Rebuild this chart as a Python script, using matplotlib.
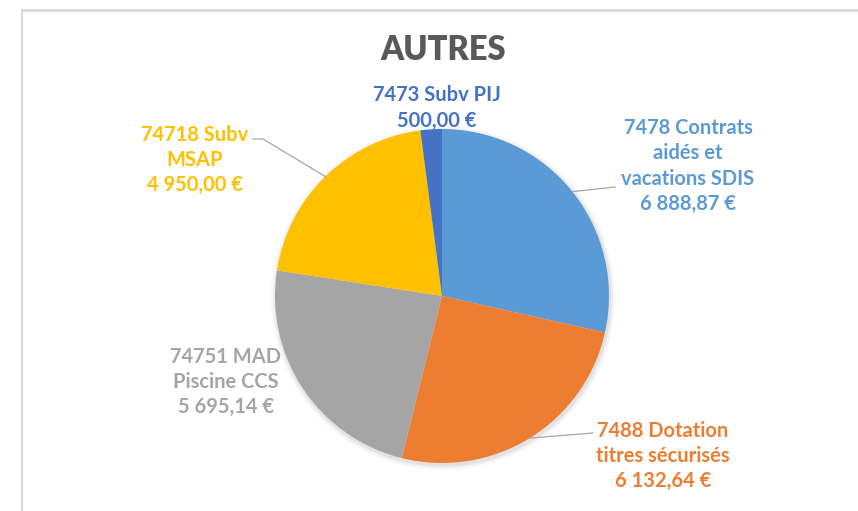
import numpy as np
import matplotlib.pyplot as plt
from matplotlib.patches import Circle

plt.rcParams['font.family'] = ['Lato', 'DejaVu Sans']

# slices, clockwise from 12 o'clock
labels = ['7478 Contrats\naidés et\nvacations SDIS',
          '7488 Dotation\ntitres sécurisés',
          '74751 MAD\nPiscine CCS',
          '74718 Subv\nMSAP',
          '7473 Subv PIJ']
values = [6888.87, 6132.64, 5695.14, 4950.00, 500.00]
amounts = ['6 888,87 €', '6 132,64 €', '5 695,14 €', '4 950,00 €', '500,00 €']
colors = ['#5B9BD5', '#ED7D31', '#A5A5A5', '#FFC000', '#4472C4']

W, H = 858, 511
fig = plt.figure(figsize=(W / 100, H / 100), dpi=100)
ax = fig.add_axes([0, 0, 1, 1])

def Y(y):
    return H - y

cx, cy, r = 442, Y(296), 167

# frame lines (top and left)
ax.plot([21, W], [Y(9.5), Y(9.5)], color='#d9d9d9', lw=2, solid_capstyle='butt')
ax.plot([21.5, 21.5], [Y(9), 0], color='#d9d9d9', lw=1.5, solid_capstyle='butt')

# soft shadow
for k, a in [(5, 0.10), (3, 0.15), (1.5, 0.25)]:
    ax.add_patch(Circle((cx + 1, cy - 2), r + k, color='#bfbfbf', alpha=a, lw=0, zorder=1))

wedges, _ = ax.pie(values, colors=colors, startangle=90, counterclock=False,
                   center=(cx, cy), radius=r, frame=True,
                   wedgeprops=dict(linewidth=0, zorder=2))
ax.set_xlim(0, W)
ax.set_ylim(0, H)
ax.set_aspect('equal')
ax.axis('off')

ax.text(443, Y(50), 'AUTRES', ha='center', va='center', fontsize=23.5,
        fontweight='heavy', color='#595959')

# label centres (image px) and leader line end points
label_pos = [(688, 166), (663, 456), (226, 382), (195, 160), (437, 108)]
leader_end = [(615, 187), (593, 433), None, (263, 139), None]
leader_knee = [None, None, None, (253, 139), None]

total = sum(values)
start = 90.0
for i, v in enumerate(values):
    span = 360.0 * v / total
    mid = np.deg2rad(start - span / 2)
    start -= span
    lx, ly = label_pos[i]
    ax.text(lx, Y(ly), labels[i] + '\n' + amounts[i], ha='center', va='center',
            fontsize=14.5, fontweight='bold', color=colors[i], linespacing=1.33,
            zorder=5)
    if leader_end[i] is not None:
        px, py = cx + r * np.cos(mid), cy + r * np.sin(mid)
        ex, ey = leader_end[i]
        xs, ys = [px, ex], [py, Y(ey)]
        if leader_knee[i] is not None:
            xs.append(leader_knee[i][0])
            ys.append(Y(leader_knee[i][1]))
        ax.plot(xs, ys, color='#a6a6a6', lw=0.9, zorder=3)

fig.savefig('out.png', dpi=100, facecolor='white')
